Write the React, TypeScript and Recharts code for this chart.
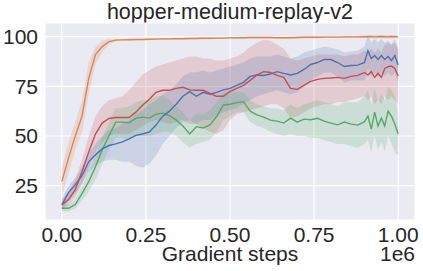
import { ComposedChart, Line, Area, XAxis, YAxis, CartesianGrid } from 'recharts';

const steps = [
    0, 0.02, 0.04, 0.06, 0.08, 0.1, 0.12, 0.14, 0.16, 0.18, 0.2, 0.22, 0.24, 0.26, 0.28, 0.3,
    0.32, 0.34, 0.36, 0.38, 0.4, 0.42, 0.44, 0.46, 0.48, 0.5, 0.52, 0.54, 0.56, 0.58, 0.6,
    0.62, 0.64, 0.66, 0.68, 0.7, 0.72, 0.74, 0.76, 0.78, 0.8, 0.82, 0.84, 0.86, 0.88, 0.9,
    0.91, 0.92, 0.93, 0.94, 0.95, 0.96, 0.97, 0.98, 0.99, 1.0,
];

const orangeMean = [
    27, 39, 50, 60, 79, 91, 95, 97.5, 98.3, 98.4, 98.5, 98.6, 98.6, 98.7, 98.8, 98.9,
    98.9, 99.0, 99.0, 99.1, 99.1, 99.2, 99.2, 99.3, 99.3, 99.4, 99.5, 99.5, 99.6, 99.6, 99.6,
    99.6, 99.5, 99.5, 99.5, 99.6, 99.7, 99.7, 99.7, 99.8, 99.8, 99.8, 99.9, 99.9, 99.9, 100,
    100, 100.1, 99.9, 100, 100.1, 100, 99.9, 100.1, 100, 99.9,
];
const orangeLo = [
    20, 31, 43, 52, 71, 86, 92, 96, 97.7, 97.9, 98, 98.1, 98.1, 98.2, 98.3, 98.4,
    98.4, 98.5, 98.5, 98.6, 98.6, 98.7, 98.7, 98.8, 98.8, 98.9, 99, 99, 99.1, 99.1, 99.1,
    99.1, 99, 99, 99, 99.1, 99.2, 99.2, 99.2, 99.3, 99.3, 99.3, 99.4, 99.4, 99.4, 99.3,
    99.2, 99.3, 99.1, 99.2, 99.3, 99.2, 99.1, 99.3, 99.2, 99.2,
];
const orangeHi = [
    34, 47, 57, 68, 87, 95, 98, 99, 98.9, 98.9, 99, 99.1, 99.1, 99.2, 99.3, 99.4,
    99.4, 99.5, 99.5, 99.6, 99.6, 99.7, 99.7, 99.8, 99.8, 99.9, 100, 100, 100.1, 100.1, 100.1,
    100.1, 100, 100, 100, 100.1, 100.2, 100.2, 100.2, 100.3, 100.3, 100.3, 100.4, 100.4, 100.4, 100.7,
    100.8, 100.9, 100.7, 100.8, 100.9, 100.8, 100.7, 100.9, 100.8, 100.6,
];

const blueMean = [
    15.3, 21.5, 25.5, 30, 37, 40.5, 43.5, 45.2, 46, 47, 48.5, 50.3, 51, 52, 55.5, 60,
    62.5, 66, 70, 72.3, 70, 72, 71, 72, 73.2, 74, 75.5, 77, 80, 80.7, 80.5,
    81.2, 82.4, 81.5, 80.7, 81.5, 83.5, 86, 87, 88.6, 88.5, 87, 85, 85.5, 85.7, 87,
    93, 89, 90.5, 88.5, 90.5, 88.5, 90, 88, 90.5, 85.7,
];
const blueLo = [
    12.5, 17, 21, 26, 32, 35, 37, 38, 38, 37, 37, 35, 34, 36, 40, 46,
    50, 54, 57, 58, 56, 58, 58, 60, 62, 63, 64, 66, 68, 70, 71,
    72, 73, 72, 71, 72, 75, 78, 80, 82, 82, 80, 77, 78, 78, 78,
    84, 80, 82, 80, 82, 80, 82, 80, 82, 77,
];
const blueHi = [
    18, 25, 29, 34, 41, 46, 50, 53, 54, 56, 58, 61, 63, 66, 68, 71,
    73, 76, 80, 82, 82, 83, 82, 83, 84, 85, 86, 87, 89, 90, 90,
    90, 91, 90, 89, 90, 92, 93, 94, 95, 94.5, 93.5, 92, 92.5, 93, 95,
    101, 97, 99, 97, 99, 97, 98, 96, 99, 94,
];

const redMean = [
    15.3, 18, 23, 32, 42, 51, 56.5, 58.8, 59.3, 59.3, 59.3, 62, 65.5, 68.5, 72, 73,
    73, 74, 74.5, 73.2, 73, 73, 71.5, 70, 70, 72.5, 74, 75.5, 78, 80.7, 82.4,
    82, 80.5, 79.5, 74, 73.5, 75.5, 77.5, 78.5, 79, 79.2, 79.5, 79, 80, 80.5, 82,
    80.7, 82.4, 79.5, 81.5, 79.5, 84, 84.9, 85.2, 84, 80.2,
];
const redLo = [
    13, 15, 19, 26, 34, 42, 47, 50, 51, 51, 51, 53, 55, 57, 58, 57,
    56, 57, 58, 56, 56, 54, 52, 51, 53, 58, 61, 62, 63, 64, 65,
    66, 66, 64, 59, 60, 62, 64, 65, 66, 66, 67, 67, 68, 69, 70,
    68, 70, 66, 68, 66, 70, 68, 70, 68, 66,
];
const redHi = [
    18, 22, 28, 38, 50, 60, 65, 68, 69, 70, 73, 77, 81, 83, 85, 86,
    87, 88, 89, 90, 90, 89, 89, 88, 88, 89, 90, 92, 95, 97, 98.5,
    98, 96, 94, 89, 88, 89, 90, 91, 91, 91, 91, 90, 91, 91, 93,
    92, 94, 92, 94, 92, 96, 97, 96, 97, 94,
];

const greenMean = [
    13.6, 13.6, 15.5, 21, 27, 34.5, 43, 50, 57, 57, 56.7, 58.9, 59.5, 59, 61, 61.5,
    60.2, 58, 55, 51, 54.7, 54, 55.6, 59.7, 65.6, 66, 66.8, 67.3, 62.5, 60.6, 59.5,
    58, 57.5, 56.5, 59, 57, 58.5, 58.2, 58.9, 57.5, 56.5, 55.6, 57, 56, 55.5, 57.2,
    60, 53.5, 62, 55, 59, 55, 62.5, 60, 56, 51,
];
const greenLo = [
    12, 12, 13.5, 17.5, 22, 28, 36, 43, 49, 49, 48, 50, 50, 50, 51, 52,
    52, 50, 47, 44, 46, 47, 48, 52, 58, 60, 62, 62, 57, 55, 54,
    52, 51, 50, 51, 50, 50, 49, 49, 48, 47, 46, 46, 45, 44, 46,
    48, 42, 50, 43, 47, 42, 50, 46, 42, 40,
];
const greenHi = [
    15, 15.5, 18, 25, 32, 40, 49, 57, 64, 64, 65, 67, 68, 68, 70, 70,
    68, 65, 62, 58, 61, 61, 63, 67, 72, 72, 72, 72, 68, 66, 65,
    64, 64, 63, 66, 64, 66, 67, 68, 67, 66, 65, 67, 67, 67, 70,
    73, 66, 74, 67, 71, 68, 75, 73, 70, 62,
];

const xTicks = [0, 0.25, 0.5, 0.75, 1.0];
const yTicks = [25, 50, 75, 100];

const data = steps.map((step, i) => ({
    step,
    orange: orangeMean[i],
    orangeBand: [orangeLo[i], orangeHi[i]],
    blue: blueMean[i],
    blueBand: [blueLo[i], blueHi[i]],
    red: redMean[i],
    redBand: [redLo[i], redHi[i]],
    green: greenMean[i],
    greenBand: [greenLo[i], greenHi[i]],
}));

const BLUE = '#4C72B0';
const ORANGE = '#DD8452';
const GREEN = '#55A868';
const RED = '#C44E52';
const INK = '#262626';
const FONT = '"Liberation Sans", Arial, sans-serif';

export default function App() {
    const tickStyle = { fontSize: 21, fill: INK, fontFamily: FONT };
    return (
        <div style={{ position: 'absolute', left: 0, top: 0, width: 423, height: 271, background: '#fff', fontFamily: FONT }}>
            <div style={{ position: 'absolute', left: 0, width: 460, top: 0, textAlign: 'center', fontSize: 21.5, lineHeight: '24px', color: INK, whiteSpace: 'nowrap' }}>
                hopper-medium-replay-v2
            </div>
            <ComposedChart width={423} height={271} data={data} margin={{ top: 23, right: 8, bottom: 0, left: 0 }}>
                <CartesianGrid fill="#EAEAF2" stroke="#ffffff" strokeWidth={1.2} />
                <XAxis
                    dataKey="step"
                    type="number"
                    domain={[-0.05, 1.05]}
                    ticks={xTicks}
                    tickFormatter={(v) => v.toFixed(2)}
                    axisLine={false}
                    tickLine={false}
                    tickSize={0}
                    tickMargin={7}
                    height={51}
                    tick={tickStyle}
                    interval={0}
                />
                <YAxis
                    type="number"
                    domain={[7.7, 106.9]}
                    ticks={yTicks}
                    axisLine={false}
                    tickLine={false}
                    tickSize={0}
                    tickMargin={7}
                    width={45}
                    tick={tickStyle}
                    interval={0}
                />
                <Area dataKey="redBand" stroke="none" fill={RED} fillOpacity={0.2} isAnimationActive={false} />
                <Area dataKey="blueBand" stroke="none" fill={BLUE} fillOpacity={0.2} isAnimationActive={false} />
                <Area dataKey="greenBand" stroke="none" fill={GREEN} fillOpacity={0.2} isAnimationActive={false} />
                <Area dataKey="orangeBand" stroke="none" fill={ORANGE} fillOpacity={0.2} isAnimationActive={false} />
                <Line dataKey="green" stroke={GREEN} strokeWidth={1.4} dot={false} isAnimationActive={false} />
                <Line dataKey="blue" stroke={BLUE} strokeWidth={1.4} dot={false} isAnimationActive={false} />
                <Line dataKey="red" stroke={RED} strokeWidth={1.4} dot={false} isAnimationActive={false} />
                <Line dataKey="orange" stroke={ORANGE} strokeWidth={1.4} dot={false} isAnimationActive={false} />
            </ComposedChart>
            <div style={{ position: 'absolute', left: 0, width: 460, top: 246, textAlign: 'center', fontSize: 21, lineHeight: '16px', color: INK }}>
                Gradient steps
            </div>
            <div style={{ position: 'absolute', right: 8, top: 246, fontSize: 21, lineHeight: '16px', color: INK }}>
                1e6
            </div>
        </div>
    );
}
